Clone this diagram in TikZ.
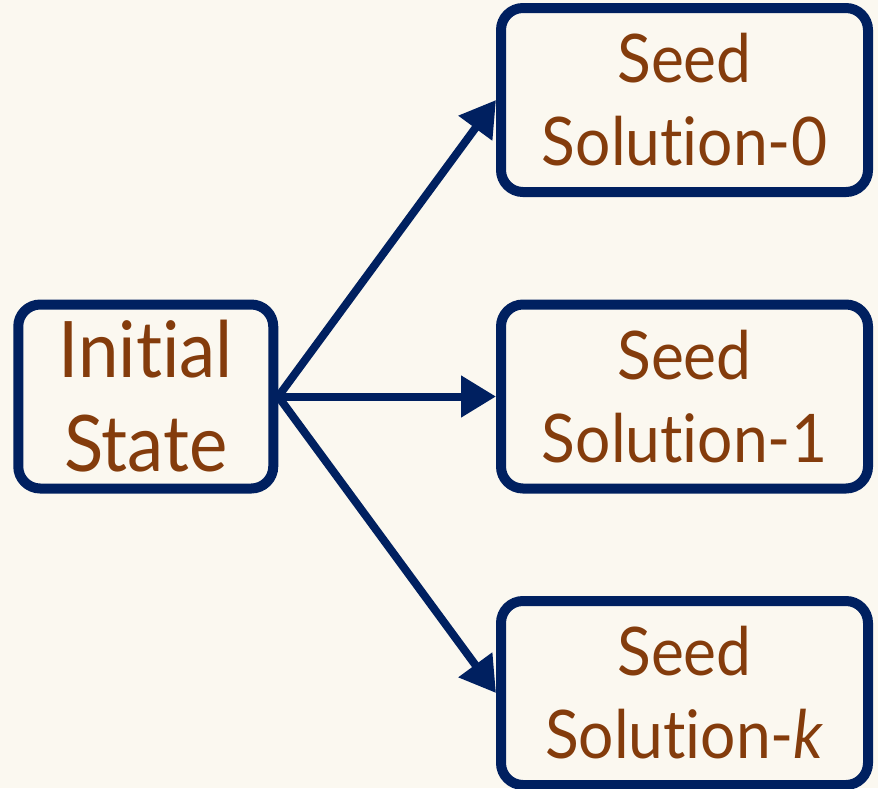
\documentclass[tikz,border=0pt]{standalone}
\usepackage{fontspec}
\setmainfont{Lato}[Ligatures=NoCommon, FakeStretch=0.93]
\usetikzlibrary{arrows.meta}
\definecolor{navy}{HTML}{002060}
\definecolor{brownt}{HTML}{843C0C}
\definecolor{cream}{HTML}{FBF8F0}
\begin{document}
\begin{tikzpicture}[x=1pt,y=-1pt,
  box/.style={draw=navy, line width=10pt, rounded corners=22pt, text=brownt,
    align=center, inner sep=0pt, minimum height=184pt},
  seedbox/.style={box, minimum width=367pt, font=\fontsize{67}{83}\selectfont},
  conn/.style={draw=navy, line width=8pt, -{Triangle[length=35pt,width=40pt]}}]
\fill[cream] (0,0) rectangle (878,788);
\useasboundingbox (0,0) rectangle (878,788);
\node[box, minimum width=255pt, font=\fontsize{78}{94}\selectfont] (init) at (145.75,396.5) {Initial\\State};
\node[seedbox] (s0) at (684.5,100) {Seed\\Solution-0};
\node[seedbox] (s1) at (684.5,396.5) {Seed\\Solution-1};
\node[seedbox] (sk) at (684.5,693) {Seed\\Solution-\textit{k}};
\draw[conn] (init.east) -- (s0.west);
\draw[conn] (init.east) -- (s1.west);
\draw[conn] (init.east) -- (sk.west);
\end{tikzpicture}
\end{document}
